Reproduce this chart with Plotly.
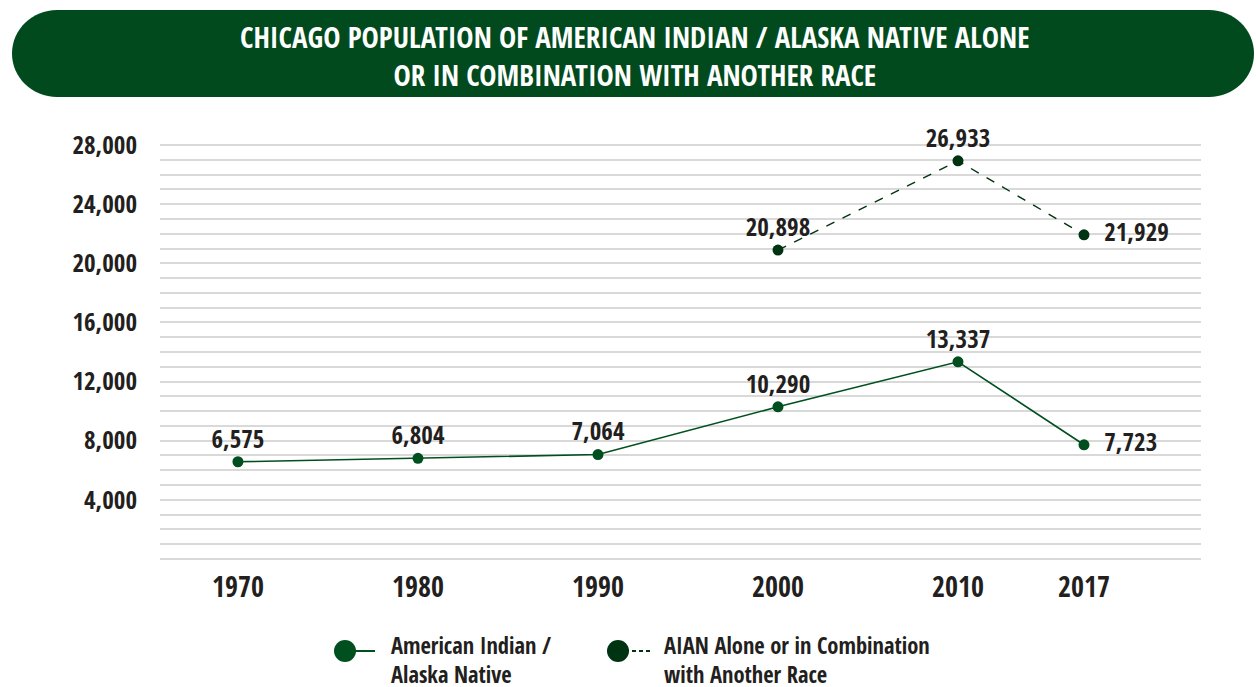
import plotly.graph_objects as go

# ---- data ----
years_all = [1970, 1980, 1990, 2000, 2010, 2017]
aian_alone = [6575, 6804, 7064, 10290, 13337, 7723]
years_combo = [2000, 2010, 2017]
aian_combo = [20898, 26933, 21929]
ytick_vals = [4000, 8000, 12000, 16000, 20000, 24000, 28000]
xtick_labels = ["1970", "1980", "1990", "2000", "2010", "2017"]
series_names = ["American Indian /<br>Alaska Native", "AIAN Alone or in Combination<br>with Another Race"]
title_text = "CHICAGO POPULATION OF AMERICAN INDIAN / ALASKA NATIVE ALONE<br>OR IN COMBINATION WITH ANOTHER RACE"

FONT = "Open Sans Condensed, Roboto Condensed, sans-serif"
TXT = "#231f20"
C1 = "#00501f"
C2 = "#003311"
BANNER = "#004a1e"

W, H = 1256, 687
L, R, T, B = 160, 55, 143, 126
PW, PH = W - L - R, H - T - B


def px(x):
    return (x - L) / PW


def py(y):
    return (H - B - y) / PH


fig = go.Figure()

pos1 = ["top center"] * (len(years_all) - 1) + ["middle right"]
fig.add_trace(go.Scatter(
    x=years_all, y=aian_alone, mode="lines+markers+text",
    line=dict(color=C1, width=1.6),
    marker=dict(color=C1, size=11),
    text=[f"{v:,}" for v in aian_alone], textposition=pos1,
    texttemplate=["%{text}"] * (len(years_all) - 1) + ["  %{text}"],
    textfont=dict(family=FONT, size=25, color=TXT, weight="bold"),
    showlegend=False, cliponaxis=False,
))
pos2 = ["top center"] * (len(years_combo) - 1) + ["middle right"]
fig.add_trace(go.Scatter(
    x=years_combo, y=aian_combo, mode="lines+markers+text",
    line=dict(color=C2, width=1.4, dash="dash"),
    marker=dict(color=C2, size=11),
    text=[f"{v:,}" for v in aian_combo], textposition=pos2,
    texttemplate=["%{text}"] * (len(years_combo) - 1) + ["  %{text}"],
    textfont=dict(family=FONT, size=25, color=TXT, weight="bold"),
    showlegend=False, cliponaxis=False,
))

shapes = []
# darker reference line at 6000
shapes.append(dict(type="line", xref="paper", yref="y", x0=0, x1=1, y0=6000, y1=6000,
                   line=dict(color="#b3b3b3", width=1.6), layer="below"))

# banner pill
x0, x1, y0, y1 = px(12), px(1254), py(10), py(97)
rx = 45 / PW
ym = (y0 + y1) / 2
k = 0.5523
path = (f"M {x0+rx},{y0} L {x1-rx},{y0} "
        f"C {x1-rx+rx*k},{y0} {x1},{ym+(y0-ym)*k} {x1},{ym} "
        f"C {x1},{ym+(y1-ym)*k} {x1-rx+rx*k},{y1} {x1-rx},{y1} "
        f"L {x0+rx},{y1} "
        f"C {x0+rx-rx*k},{y1} {x0},{ym+(y1-ym)*k} {x0},{ym} "
        f"C {x0},{ym+(y0-ym)*k} {x0+rx-rx*k},{y0} {x0+rx},{y0} Z")
shapes.append(dict(type="path", xref="paper", yref="paper", path=path,
                   fillcolor=BANNER, line=dict(width=0)))

# legend glyphs
rr = 11
for (cx, col, dash, lx1) in [(345, C1, "solid", 375), (618, C2, "4px,3px", 650)]:
    shapes.append(dict(type="line", xref="paper", yref="paper",
                       x0=px(cx), x1=px(lx1), y0=py(651), y1=py(651),
                       line=dict(color=col, width=2, dash=dash)))
    shapes.append(dict(type="circle", xref="paper", yref="paper",
                       x0=px(cx - rr), x1=px(cx + rr), y0=py(651 - rr), y1=py(651 + rr),
                       fillcolor=col, line=dict(width=0)))

annotations = [
    dict(xref="paper", yref="paper", x=px(635), y=py(55), text=title_text,
         showarrow=False, xanchor="center", yanchor="middle",
         font=dict(family=FONT, size=29, color="white", weight="bold")),
    dict(xref="paper", yref="paper", x=px(389), y=py(628), text=series_names[0],
         showarrow=False, xanchor="left", yanchor="top", align="left",
         font=dict(family=FONT, size=22.5, color=TXT, weight="bold")),
    dict(xref="paper", yref="paper", x=px(662), y=py(628), text=series_names[1],
         showarrow=False, xanchor="left", yanchor="top", align="left",
         font=dict(family=FONT, size=22.5, color=TXT, weight="bold")),
]

fig.update_layout(
    width=W, height=H,
    margin=dict(l=L, r=R, t=T, b=B, autoexpand=False),
    paper_bgcolor="white", plot_bgcolor="white",
    shapes=shapes, annotations=annotations,
    xaxis=dict(range=[1965.67, 2023.5], tickvals=years_all, ticktext=xtick_labels,
               showgrid=False, zeroline=False, showline=False, ticks="",
               tickfont=dict(family=FONT, size=28, color=TXT, weight="bold"),
               ticklabelstandoff=7),
    yaxis=dict(range=[-140, 28140], tickvals=ytick_vals, tickformat=",",
               showgrid=True, gridcolor="#d9d9d9", gridwidth=1.5,
               minor=dict(tick0=0, dtick=1000, showgrid=True, gridcolor="#d9d9d9", gridwidth=1.5),
               zeroline=False, showline=False, ticks="",
               tickfont=dict(family=FONT, size=25, color=TXT, weight="bold"),
               ticklabelstandoff=22),
)

fig.write_html("out.html", config={"displayModeBar": False},
               post_script="document.body.style.margin='0';")
